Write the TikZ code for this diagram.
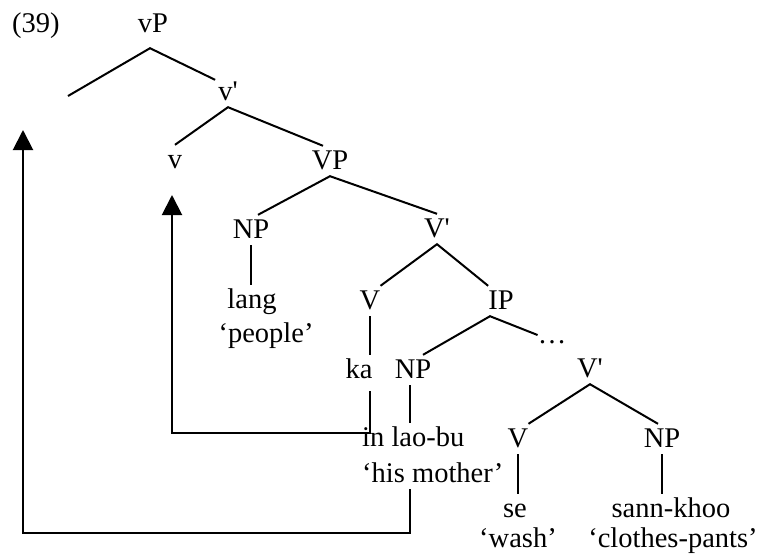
\documentclass[tikz,border=0pt]{standalone}
\usepackage{fontspec}
\setmainfont{Liberation Serif}
\usetikzlibrary{arrows.meta}
\begin{document}
\begin{tikzpicture}[x=1pt,y=-1pt,
  font=\fontsize{28.5}{34}\selectfont,
  tn/.style={anchor=base, inner sep=0pt, text height=23pt, text depth=7pt},
  lt/.style={anchor=base west, inner sep=0pt, text height=23pt, text depth=7pt},
  br/.style={line width=2pt},
  mv/.style={line width=2pt, -{Triangle[width=20pt,length=20pt]}}]
\useasboundingbox (0,0) rectangle (759,558);
% labels
\node[lt] (ex) at (12,32) {(39)};
\node[tn, text depth=16pt] (vP) at (153,32) {vP};
\node[tn] (vbar) at (228,100) {v\textquotesingle};
\node[tn] (v) at (175,168) {v};
\node[tn] (VP) at (330,169) {VP};
\node[tn] (NPa) at (251,238) {NP};
\node[tn] (lang) at (252,308) {lang};
\node[tn] (people) at (266,342) {‘people’};
\node[tn] (Vbara) at (437,237) {V\textquotesingle};
\node[tn] (Va) at (370,309) {V};
\node[tn] (IP) at (501,309) {IP};
\node[tn, text depth=13pt] (ka) at (359,378) {ka};
\node[tn] (NPb) at (413,378) {NP};
\node[tn] (dots) at (552,343) {…};
\node[tn] (Vbarb) at (590,377) {V\textquotesingle};
\node[lt] (inlaobu) at (362,446) {in lao-bu};
\node[lt] (hismother) at (362,482) {‘his mother’};
\node[tn] (Vb) at (518,447) {V};
\node[tn] (NPc) at (662,447) {NP};
\node[tn] (se) at (515,517) {se};
\node[tn] (wash) at (518,547) {‘wash’};
\node[tn] (sannkhoo) at (671,517) {sann-khoo};
\node[tn] (clothes) at (673,547) {‘clothes-pants’};
% free ends of the movement paths
\coordinate (spec) at (68,96);
\coordinate (c1) at (23,533);
\coordinate (t1) at (23,130);
\coordinate (c2) at (172,433);
\coordinate (t2) at (172,195);
% branches
\draw[br] (spec) -- ([xshift=-3pt]vP.south) -- ([xshift=-3pt,yshift=-3pt]vbar.north west);
\draw[br] (v.north) -- (vbar.south) -- ([xshift=-7pt]VP.north);
\draw[br] ([xshift=7pt]NPa.north) -- (VP.south) -- (Vbara.north);
\draw[br] (NPa.south) -- (NPa.south |- lang.north);
\draw[br] (Va.north east) -- (Vbara.south) -- (IP.north west);
\draw[br] (Va.south) -- (Va.south |- ka.north);
\draw[br] ([xshift=10pt]NPb.north) -- ([xshift=-11pt]IP.south) -- (dots.west);
\draw[br] ([xshift=-3pt]NPb.south) -- ([xshift=-3pt]NPb.south |- inlaobu.north);
\draw[br] (Vb.north east) -- (Vbarb.south) -- ([xshift=-4pt]NPc.north);
\draw[br] (Vb.south) -- (Vb.south |- se.north);
\draw[br] (NPc.south) -- (NPc.south |- sannkhoo.north);
% movement arrows
\draw[mv] ([xshift=-3pt]NPb.south |- hismother.south) |- (c1) -- (t1);
\draw[mv] (Va.south |- ka.south) |- (c2) -- (t2);
\end{tikzpicture}
\end{document}
